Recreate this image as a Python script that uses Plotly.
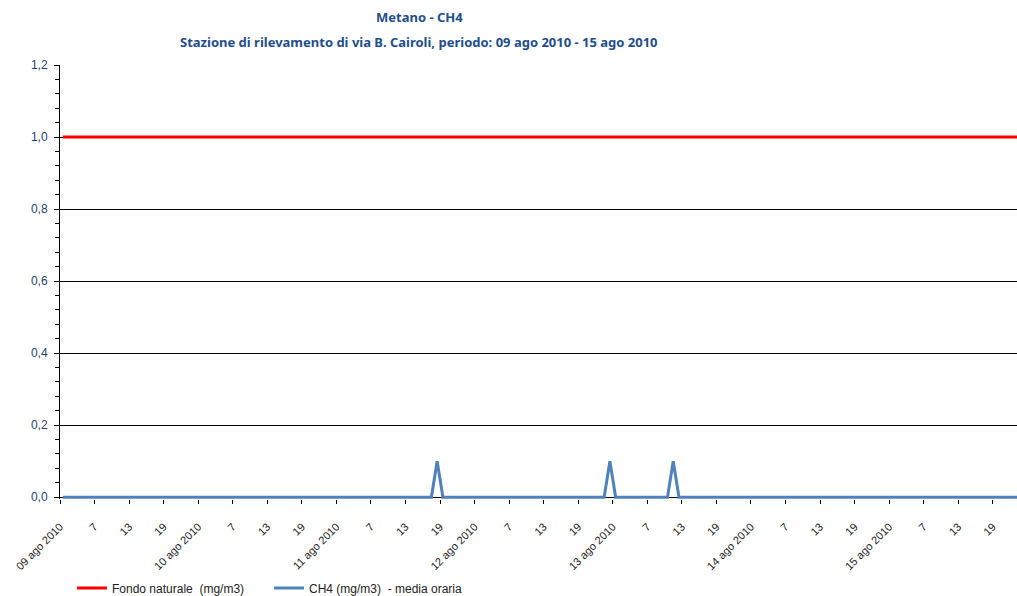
import plotly.graph_objects as go

# ---- data ----
days = ["09 ago 2010", "10 ago 2010", "11 ago 2010", "12 ago 2010",
        "13 ago 2010", "14 ago 2010", "15 ago 2010"]
hour_labels = ["7", "13", "19"]
n_hours = 168  # hourly values from 09 ago 2010 01:00
ch4_peaks = {65: 0.1, 95: 0.1, 106: 0.1}  # hour index -> mg/m3
ch4 = [ch4_peaks.get(i, 0.0) for i in range(n_hours)]
fondo = [1.0] * n_hours
y_ticks = [0.0, 0.2, 0.4, 0.6, 0.8, 1.0, 1.2]
y_labels = ["0,0", "0,2", "0,4", "0,6", "0,8", "1,0", "1,2"]
title_1 = "Metano - CH4"
title_2 = "Stazione di rilevamento di via B. Cairoli, periodo: 09 ago 2010 - 15 ago 2010"

# category centres (between tick marks)
xs = [i + 0.5 for i in range(n_hours)]
tickvals, ticktext = [], []
for d, day in enumerate(days):
    tickvals.append(d * 24)
    ticktext.append(day)
    for k, h in enumerate(hour_labels):
        tickvals.append(d * 24 + 6 * (k + 1))
        ticktext.append(h)

fig = go.Figure()
fig.add_trace(go.Scatter(x=xs, y=fondo, mode="lines", name="Fondo naturale  (mg/m3)",
                         line=dict(color="#FF0000", width=3)))
fig.add_trace(go.Scatter(x=xs, y=ch4, mode="lines", name="CH4 (mg/m3)  - media oraria",
                         line=dict(color="#4F81BD", width=3)))

title_font = dict(family="Noto Sans, sans-serif", size=13, color="#1F4E8C", weight="bold")
fig.add_annotation(text=title_1, xref="paper", yref="paper", x=(419 - 60) / 957, y=(596 - 17 - 97) / 434,
                   xanchor="center", yanchor="middle", showarrow=False, font=title_font)
fig.add_annotation(text=title_2, xref="paper", yref="paper", x=(419 - 60) / 957, y=(596 - 42 - 97) / 434,
                   xanchor="center", yanchor="middle", showarrow=False, font=title_font)

fig.update_layout(
    width=1017, height=596,
    margin=dict(l=60, r=0, t=65, b=97, autoexpand=False),
    paper_bgcolor="white", plot_bgcolor="white",
    font=dict(family="Liberation Sans, Arial, sans-serif", size=10, color="#222"),
    showlegend=True,
    legend=dict(orientation="h", x=(72 - 60) / 957, y=-(588 - 499) / 434, xanchor="left", yanchor="middle",
                font=dict(size=12, color="#222"), itemwidth=30, tracegroupgap=0,
                entrywidth=152, entrywidthmode="pixels"),
    xaxis=dict(range=[0, 166.2], tickmode="array", tickvals=tickvals, ticktext=ticktext,
               tickangle=-45, ticks="outside", ticklen=4, tickcolor="#000", automargin=False,
               showgrid=False, zeroline=False, showline=False, ticklabelstandoff=12,
               tickfont=dict(size=11, color="#222")),
    yaxis=dict(range=[-0.005, 1.2], tickmode="array", tickvals=y_ticks, ticktext=y_labels,
               ticks="outside", ticklen=5, tickcolor="#000", automargin=False,
               showgrid=True, gridcolor="#000", gridwidth=1, ticklabelstandoff=4,
               showline=True, linecolor="#000", linewidth=1, zeroline=False,
               minor=dict(dtick=0.04, tick0=0, ticks="outside", ticklen=4, tickcolor="#000", showgrid=False),
               tickfont=dict(size=12, color="#1F3F6F")),
)
fig.write_html("out.html", config={"displayModeBar": False},
               post_script="document.body.style.margin='0';document.body.style.overflow='hidden';")
